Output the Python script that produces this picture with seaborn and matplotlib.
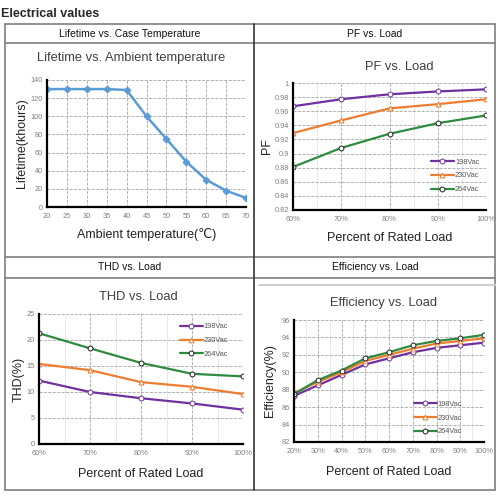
import matplotlib
matplotlib.use("Agg")
import matplotlib.pyplot as plt
from matplotlib.ticker import MultipleLocator, FuncFormatter
import seaborn as sns

sns.set_theme(style="white")
plt.rcParams['font.family'] = ['Liberation Sans', 'DejaVu Sans']

# Data
temp = [20, 25, 30, 35, 40, 45, 50, 55, 60, 65, 70]
lifetime = [130, 130, 130, 130, 129, 100, 75, 50, 30, 18, 10]

pf_load = [60, 70, 80, 90, 100]
pf_198 = [0.967, 0.977, 0.984, 0.988, 0.991]
pf_230 = [0.929, 0.947, 0.964, 0.970, 0.977]
pf_264 = [0.881, 0.908, 0.928, 0.943, 0.954]

thd_load = [60, 70, 80, 90, 100]
thd_198 = [12.2, 10.0, 8.8, 7.8, 6.6]
thd_230 = [15.4, 14.2, 11.9, 11.0, 9.6]
thd_264 = [21.3, 18.4, 15.6, 13.5, 13.0]

eff_load = [20, 30, 40, 50, 60, 70, 80, 90, 100]
eff_198 = [87.3, 88.5, 89.7, 90.9, 91.6, 92.3, 92.8, 93.1, 93.4]
eff_230 = [87.6, 88.9, 90.0, 91.3, 92.0, 92.7, 93.3, 93.6, 93.9]
eff_264 = [87.5, 89.1, 90.2, 91.6, 92.3, 93.1, 93.6, 93.9, 94.3]

series_names = ["198Vac", "230Vac", "264Vac"]
colors = {"198Vac": "#7030A0", "230Vac": "#ED7D31", "264Vac": "#2E8B3E"}
edge = {"198Vac": "#7030A0", "230Vac": "#ED7D31", "264Vac": "#222222"}
marks = {"198Vac": "o", "230Vac": "^", "264Vac": "o"}

fig = plt.figure(figsize=(5, 5), dpi=100)

# background layer in pixel coordinates for the table frame
bg = fig.add_axes([0, 0, 1, 1])
bg.set_xlim(0, 500)
bg.set_ylim(500, 0)
bg.axis("off")
lc = "#7f7f7f"
for y in [24, 43, 257, 278, 490]:
    bg.plot([5, 495], [y, y], color=lc, lw=1.2)
for x in [5, 495]:
    bg.plot([x, x], [24, 490], color=lc, lw=1.2)
bg.plot([254, 254], [24, 490], color="#333333", lw=1.2)
bg.plot([259, 495], [285, 285], color="#d0d0d0", lw=1.5)

bg.text(1, 14, "Electrical values", fontsize=9, fontweight="bold", va="center", ha="left")
hdr = dict(fontsize=7.5, ha="center", va="center", color="#111111")
bg.text(130, 34, "Lifetime vs. Case Temperature", **hdr)
bg.text(375, 34, "PF vs. Load", **hdr)
bg.text(130, 267, "THD vs. Load", **hdr)
bg.text(375, 267, "Efficiency vs. Load", **hdr)

ttl = dict(fontsize=9.3, ha="center", va="center", color="#404040")
bg.text(131, 58, "Lifetime vs. Ambient temperature", **ttl)
bg.text(399, 67, "PF vs. Load", **ttl)
bg.text(138, 297, "THD vs. Load", **ttl)
bg.text(384, 303, "Efficiency vs. Load", **ttl)


def style_axis(ax):
    for s in ["top", "right"]:
        ax.spines[s].set_visible(False)
    for s in ["left", "bottom"]:
        ax.spines[s].set_color("black")
        ax.spines[s].set_linewidth(1.6)
    ax.grid(True, which="major", color="#a6a6a6", ls="--", lw=0.6)
    ax.tick_params(axis="both", labelsize=5.3, colors="#7f7f7f", length=0, pad=4)
    ax.tick_params(axis="y", pad=3)
    ax.set_axisbelow(True)


pct = FuncFormatter(lambda v, p: f"{v:g}%")
lab = dict(fontsize=9, color="#222222")

# Lifetime
ax1 = fig.add_axes([0.094, 0.586, 0.398, 0.254])
sns.lineplot(x=temp, y=lifetime, ax=ax1, color="#5B9BD5", lw=1.8,
             marker="D", markersize=3.5, markeredgecolor="#5B9BD5")
ax1.set_xlim(20, 70)
ax1.set_ylim(0, 140)
ax1.xaxis.set_major_locator(MultipleLocator(5))
ax1.yaxis.set_major_locator(MultipleLocator(20))
style_axis(ax1)
ax1.set_xlabel("Ambient temperature(\u2103)", labelpad=6, **lab)
ax1.set_ylabel("Lifetime(khours)", labelpad=2, **lab)


def multi(ax, xs, ys_list, legend_loc, anchor):
    for name, ys in zip(series_names, ys_list):
        sns.lineplot(x=xs, y=ys, ax=ax, color=colors[name], lw=1.6, label=name,
                     marker=marks[name], markersize=3.5, markerfacecolor="white",
                     markeredgecolor=edge[name], markeredgewidth=0.7)
    leg = ax.legend(loc=legend_loc, bbox_to_anchor=anchor, frameon=False, fontsize=5.3,
                    handlelength=3.2, labelspacing=0.9, handletextpad=0.1)
    for t in leg.get_texts():
        t.set_color("#555555")


# PF
ax2 = fig.add_axes([0.586, 0.58, 0.386, 0.254])
multi(ax2, pf_load, [pf_198, pf_230, pf_264], "lower right", (1.0, 0.08))
ax2.set_xlim(60, 100)
ax2.set_ylim(0.82, 1.0)
ax2.xaxis.set_major_locator(MultipleLocator(10))
ax2.xaxis.set_minor_locator(MultipleLocator(5))
ax2.yaxis.set_major_locator(MultipleLocator(0.02))
ax2.xaxis.set_major_formatter(pct)
ax2.yaxis.set_major_formatter(FuncFormatter(lambda v, p: f"{v:.2f}".rstrip("0").rstrip(".")))
style_axis(ax2)
ax2.grid(True, which="minor", axis="x", color="#e3e3e3", lw=0.6)
ax2.set_xlabel("Percent of Rated Load", labelpad=7, **lab)
ax2.set_ylabel("PF", labelpad=1, **lab)

# THD
ax3 = fig.add_axes([0.078, 0.112, 0.408, 0.26])
multi(ax3, thd_load, [thd_198, thd_230, thd_264], "upper right", (0.96, 0.98))
ax3.set_xlim(60, 100)
ax3.set_ylim(0, 25)
ax3.xaxis.set_major_locator(MultipleLocator(10))
ax3.xaxis.set_minor_locator(MultipleLocator(5))
ax3.yaxis.set_major_locator(MultipleLocator(5))
ax3.xaxis.set_major_formatter(pct)
style_axis(ax3)
ax3.grid(True, which="minor", axis="x", color="#e3e3e3", lw=0.6)
ax3.set_xlabel("Percent of Rated Load", labelpad=8, **lab)
ax3.set_ylabel("THD(%)", labelpad=1.5, **lab)

# Efficiency
ax4 = fig.add_axes([0.588, 0.116, 0.38, 0.244])
multi(ax4, eff_load, [eff_198, eff_230, eff_264], "lower right", (0.92, 0.0))
ax4.set_xlim(20, 100)
ax4.set_ylim(82, 96)
ax4.xaxis.set_major_locator(MultipleLocator(10))
ax4.xaxis.set_minor_locator(MultipleLocator(5))
ax4.yaxis.set_major_locator(MultipleLocator(2))
ax4.xaxis.set_major_formatter(pct)
style_axis(ax4)
ax4.grid(True, which="minor", axis="x", color="#e3e3e3", lw=0.6)
ax4.set_xlabel("Percent of Rated Load", labelpad=8, **lab)
ax4.set_ylabel("Efficiency(%)", labelpad=4, **lab)

fig.savefig("out.png", dpi=100)
